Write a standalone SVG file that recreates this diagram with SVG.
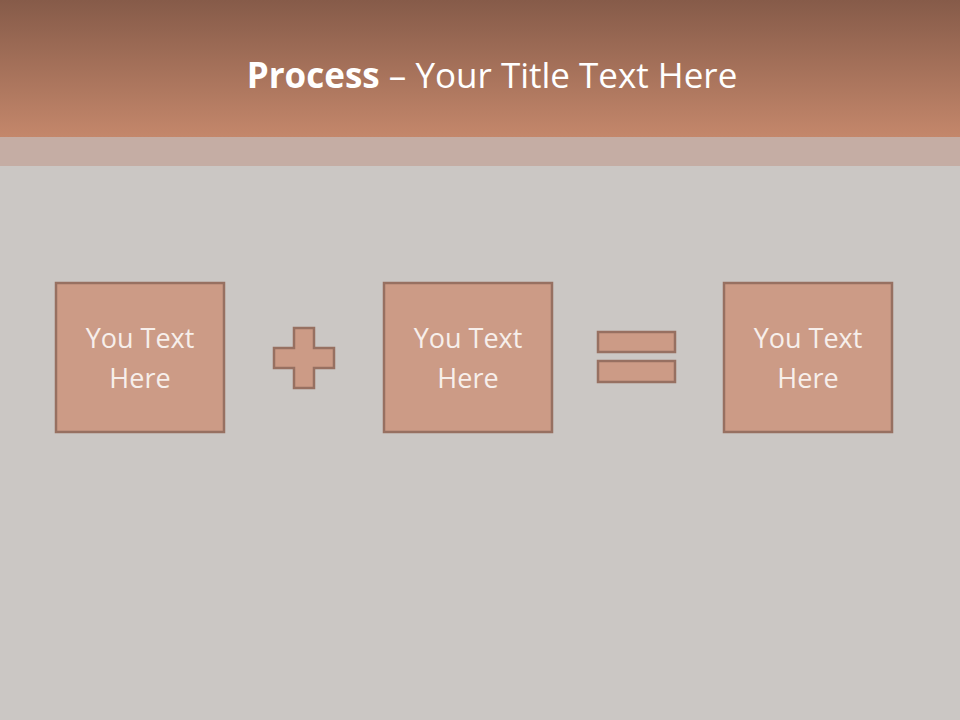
<svg xmlns="http://www.w3.org/2000/svg" width="960" height="720" viewBox="0 0 960 720">
<defs>
<linearGradient id="hdr" x1="0" y1="0" x2="0" y2="1">
<stop offset="0" stop-color="#865b49"/>
<stop offset="1" stop-color="#c4876b"/>
</linearGradient>
</defs>
<style>
.box{fill:#cc9b86;stroke:#977061;stroke-width:2.5}
.op{fill:#cc9b86;stroke:#977061;stroke-width:2.5}
.lbl{font-family:"Open Sans","Liberation Sans",sans-serif;font-size:27px;fill:#f7efeb;text-anchor:middle}
.title{font-family:"Open Sans","Liberation Sans",sans-serif;font-size:35px;fill:#ffffff;text-anchor:middle}
</style>
<rect x="0" y="0" width="960" height="720" fill="#cbc7c4"/>
<rect x="0" y="0" width="960" height="137" fill="url(#hdr)"/>
<rect x="0" y="137" width="960" height="29" fill="#c5ada4"/>
<g id="title">
<text class="title" x="492" y="88"><tspan font-weight="bold">Process</tspan> – Your Title Text Here</text>
</g>
<g id="node1">
<rect class="box" x="56" y="283" width="168" height="149"/>
<text class="lbl" x="140" y="348">You Text</text>
<text class="lbl" x="140" y="388">Here</text>
</g>
<g id="plus">
<path class="op" d="M294,328 H314 V348 H334 V368 H314 V388 H294 V368 H274 V348 H294 Z"/>
</g>
<g id="node2">
<rect class="box" x="384" y="283" width="168" height="149"/>
<text class="lbl" x="468" y="348">You Text</text>
<text class="lbl" x="468" y="388">Here</text>
</g>
<g id="equals">
<rect class="op" x="598" y="332" width="77" height="20"/>
<rect class="op" x="598" y="361" width="77" height="21"/>
</g>
<g id="node3">
<rect class="box" x="724" y="283" width="168" height="149"/>
<text class="lbl" x="808" y="348">You Text</text>
<text class="lbl" x="808" y="388">Here</text>
</g>
<g id="connectors"/>
</svg>
